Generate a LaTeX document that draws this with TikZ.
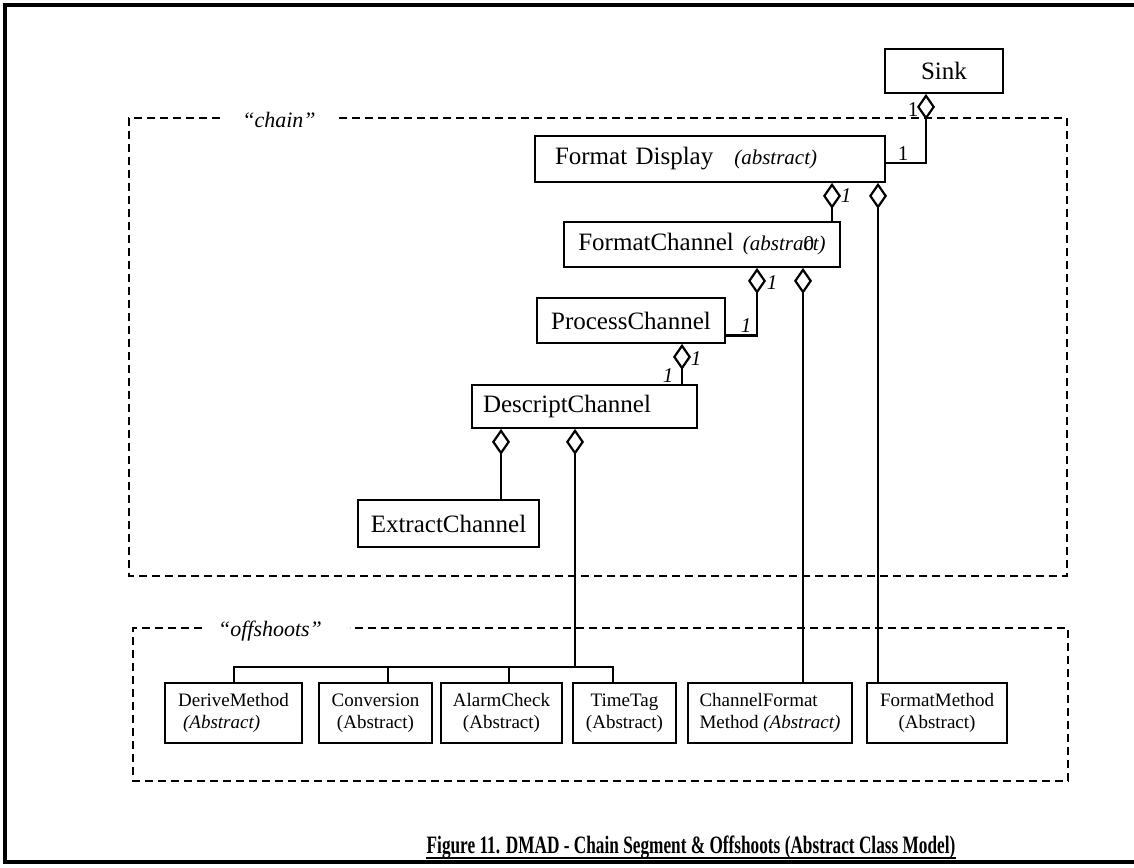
\documentclass[tikz,border=0pt]{standalone}
\usepackage{fontspec}
\usepackage{graphicx}
\setmainfont{Liberation Serif}
\usetikzlibrary{arrows.meta}

\begin{document}
\begin{tikzpicture}[x=1pt,y=-1pt,
  cls/.style={draw, line width=1.8pt, minimum height=45pt, inner ysep=0pt,
    font=\fontsize{25}{28}\selectfont},
  small/.style={draw, line width=1.8pt, minimum height=60pt, inner ysep=0pt,
    inner xsep=0pt, align=center, font=\fontsize{19}{22}\selectfont},
  abst/.style={font=\fontsize{21}{22}\selectfont\itshape},
  conn/.style={line width=2.2pt},
  agg/.style={conn, -{Diamond[open, length=26pt, width=18pt]}},
  grp/.style={line width=2.4pt, dash pattern=on 8pt off 5pt},
  grplabel/.style={font=\fontsize{22}{24}\selectfont\itshape, inner sep=0pt, anchor=base},
  mult/.style={font=\fontsize{21}{22}\selectfont\itshape, inner sep=0pt},
  multup/.style={font=\fontsize{21}{22}\selectfont, inner sep=0pt},
]
\useasboundingbox (0,0) rectangle (1134,867);

% page frame
\draw[line width=4pt] (1134,5) -- (5,5) -- (5,862) -- (1134,862);

% group outlines
\draw[grp] (220,118) -- (129,118) -- (129,576) -- (1067,576) -- (1067,118) -- (338,118);
\node[grplabel] (chainlbl) at (279,127) {“chain”};
\draw[grp] (202,628) -- (133,628) -- (133,781) -- (1068,781) -- (1068,628) -- (350,628);
\node[grplabel] (offlbl) at (270,636) {“offshoots”};

% chain classes
\node[cls, minimum width=118pt, minimum height=44pt] (sink) at (944,71) {Sink};
\node[cls, text width=310pt, inner xsep=20pt, align=left, minimum height=46pt] (fd) at (710,159)
  {Format Display\hspace{21pt}{\fontsize{21}{22}\selectfont\itshape (abstract)}};
\node[cls, minimum width=276pt] (fc) at (702,244.5)
  {FormatChannel\hspace{9pt}{\fontsize{21}{22}\selectfont\itshape (abstra\rlap{\upshape 0}ct)}};
\node[cls, minimum width=188pt] (pc) at (631,320.5) {ProcessChannel};
\node[cls, text width=203pt, inner xsep=11pt, align=left, minimum height=43pt] (dc) at (584.5,406.5)
  {DescriptChannel};
\node[cls, minimum width=181pt, minimum height=47pt] (ec) at (448.5,523.5) {ExtractChannel};

% offshoot classes
\node[small, minimum width=137pt, align=left] (dm) at (233.5,713)
  {DeriveMethod\\\hspace*{5pt}\textit{(Abstract)}};
\node[small, minimum width=113pt] (cv) at (375.5,713) {Conversion\\(Abstract)};
\node[small, minimum width=121pt] (ac) at (501.5,713) {AlarmCheck\\(Abstract)};
\node[small, minimum width=103pt] (tt) at (624.5,713) {TimeTag\\(Abstract)};
\node[small, minimum width=164pt, align=left] (cfm) at (770,713)
  {ChannelFormat\\Method \textit{(Abstract)}};
\node[small, minimum width=140pt] (fm) at (937,713) {FormatMethod\\(Abstract)};

% aggregations
\draw[agg] ([yshift=-4pt]fd.east) -| (sink.south -| 926,0);
\draw[agg] (fc.north -| 832,0) -- (fd.south -| 832,0);
\draw[agg] (fm.north -| 878,0) -- (fd.south -| 878,0);
\draw[agg] ([yshift=-15pt]pc.east) -| (fc.south -| 757,0);
\draw[agg] (cfm.north -| 803,0) -- (fc.south -| 803,0);
\draw[agg] (dc.north -| 682,0) -- (pc.south -| 682,0);
\draw[agg] (ec.north -| 501,0) -- (dc.south -| 501,0);

% offshoot bus
\coordinate (bus) at (575,667);
\draw[agg] (bus) -- (dc.south -| bus);
\draw[conn] (dm.north -| 234,0) |- (bus) -| (tt.north -| 613,0);
\draw[conn] (cv.north -| 388,0) -- (bus -| 388,0);
\draw[conn] (ac.north -| 509,0) -- (bus -| 509,0);

% multiplicities
\node[multup] (m1) at (913,110) {1};
\node[multup] (m2) at (903,154) {1};
\node[mult] (m3) at (846,196) {1};
\node[mult] (m4) at (772,283) {1};
\node[mult] (m5) at (746,326) {1};
\node[mult] (m6) at (696,359) {1};
\node[mult] (m7) at (668,376) {1};

% caption
\node[anchor=base, inner sep=0pt, font=\fontsize{25}{28}\selectfont\bfseries] (cap) at (691,853)
  {\scalebox{0.69}[1]{Figure 11. DMAD - Chain Segment \& Offshoots (Abstract Class Model)}};
\draw[line width=1.8pt] ([yshift=-5pt]cap.base west) -- ([yshift=-5pt]cap.base east);
\end{tikzpicture}
\end{document}
